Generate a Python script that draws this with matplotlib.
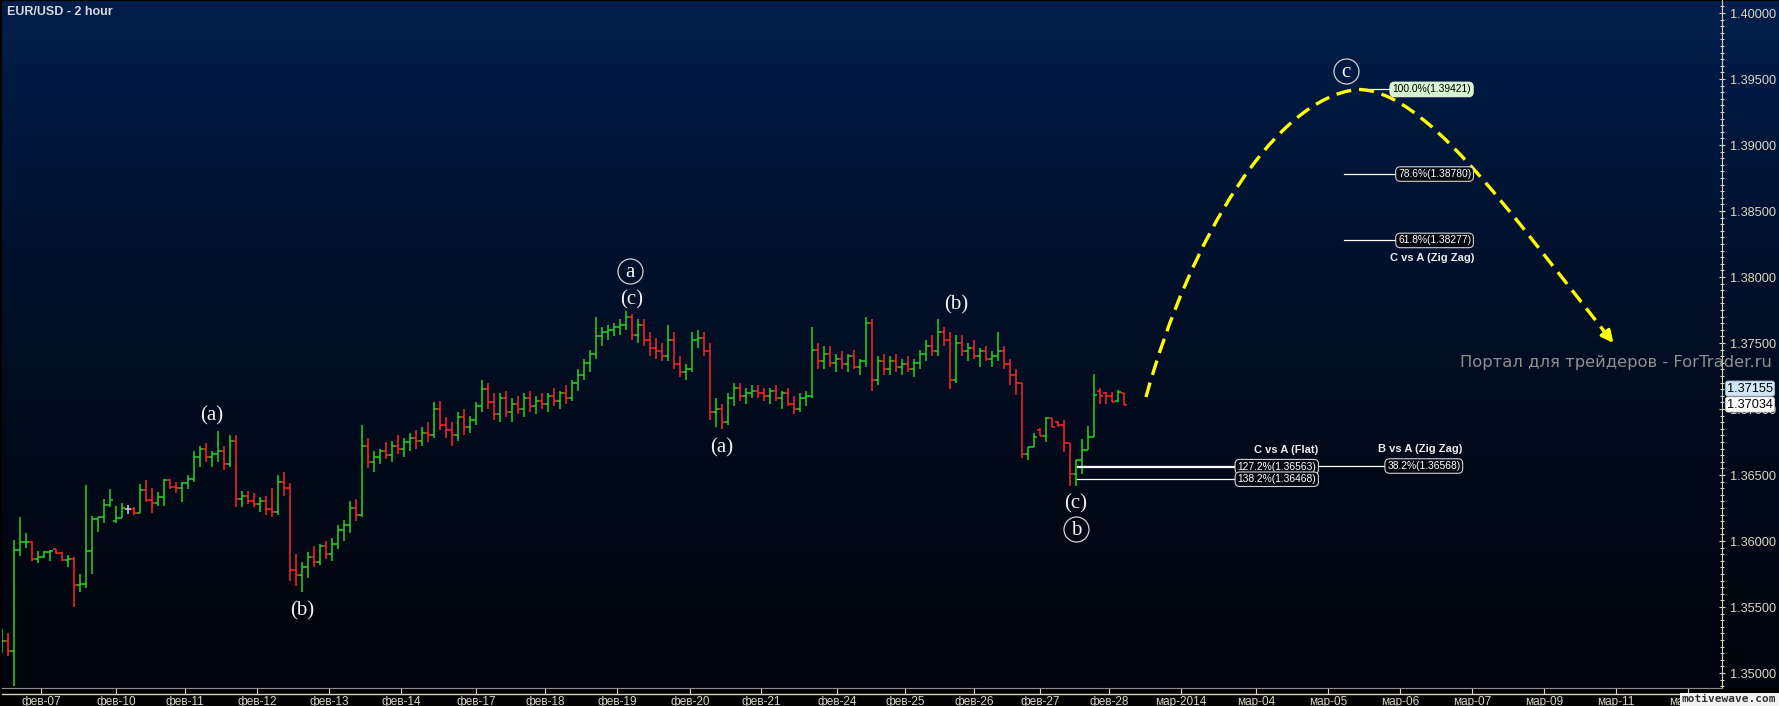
import numpy as np
import matplotlib.pyplot as plt
import matplotlib.transforms as mtransforms
from matplotlib.path import Path
from matplotlib.patches import PathPatch, Rectangle
from matplotlib.lines import Line2D
from matplotlib.ticker import MultipleLocator, FixedLocator, FormatStrFormatter

# ---------------- data (EUR/USD, 2 hour bars) ----------------
bar_open = [
    1.35235, 1.35242, 1.35167, 1.35932, 1.35992, 1.35995, 1.35864, 1.35879, 1.35917, 1.35939,
    1.35910, 1.35856, 1.35864, 1.35667, 1.35674, 1.35924, 1.36167, 1.36182, 1.36273, 1.36150,
    1.36174, 1.36242, 1.36242, 1.36212, 1.36386, 1.36311, 1.36288, 1.36333, 1.36462, 1.36409,
    1.36402, 1.36439, 1.36470, 1.36640, 1.36700, 1.36640, 1.36660, 1.36680, 1.36580, 1.36760,
    1.36320, 1.36340, 1.36300, 1.36280, 1.36300, 1.36240, 1.36220, 1.36450, 1.36400, 1.35780,
    1.35740, 1.35800, 1.35880, 1.35840, 1.35960, 1.35900, 1.35980, 1.36080, 1.36120, 1.36250,
    1.36200, 1.36720, 1.36600, 1.36640, 1.36680, 1.36650, 1.36720, 1.36700, 1.36750, 1.36780,
    1.36760, 1.36820, 1.36800, 1.37000, 1.36880, 1.36840, 1.36800, 1.36940, 1.36860, 1.36920,
    1.37020, 1.37150, 1.37050, 1.36960, 1.37080, 1.36980, 1.37040, 1.37000, 1.37080, 1.37020,
    1.37060, 1.37040, 1.37100, 1.37060, 1.37120, 1.37080, 1.37200, 1.37260, 1.37350, 1.37420,
    1.37550, 1.37580, 1.37600, 1.37620, 1.37640, 1.37700, 1.37560, 1.37640, 1.37520, 1.37460,
    1.37440, 1.37400, 1.37520, 1.37340, 1.37280, 1.37300, 1.37520, 1.37540, 1.37440, 1.36980,
    1.37000, 1.36900, 1.37080, 1.37160, 1.37100, 1.37120, 1.37140, 1.37120, 1.37100, 1.37140,
    1.37080, 1.37120, 1.37040, 1.37000, 1.37080, 1.37100, 1.37450, 1.37360, 1.37420, 1.37350,
    1.37380, 1.37340, 1.37400, 1.37320, 1.37360, 1.37650, 1.37220, 1.37360, 1.37300, 1.37360,
    1.37320, 1.37340, 1.37300, 1.37350, 1.37420, 1.37480, 1.37440, 1.37580, 1.37520, 1.37220,
    1.37500, 1.37440, 1.37460, 1.37400, 1.37440, 1.37380, 1.37400, 1.37440, 1.37340, 1.37260,
    1.37197, 1.36659, 1.36712, 1.36840, 1.36795, 1.36932, 1.36900, 1.36879, 1.36742, 1.36508,
    1.36614, 1.36689, 1.36788, 1.37140, 1.37120, 1.37100, 1.37060, 1.37121,
]
bar_high = [
    1.35333, 1.35303, 1.36008, 1.36182, 1.36061, 1.36000, 1.35924, 1.35924, 1.35932, 1.35939,
    1.35917, 1.35894, 1.35879, 1.35750, 1.36424, 1.36189, 1.36182, 1.36318, 1.36394, 1.36265,
    1.36288, 1.36273, 1.36258, 1.36432, 1.36462, 1.36402, 1.36371, 1.36470, 1.36470, 1.36450,
    1.36447, 1.36500, 1.36680, 1.36720, 1.36740, 1.36680, 1.36830, 1.36720, 1.36800, 1.36800,
    1.36380, 1.36380, 1.36360, 1.36330, 1.36340, 1.36400, 1.36500, 1.36520, 1.36440, 1.35900,
    1.35840, 1.35920, 1.35960, 1.35980, 1.36000, 1.36020, 1.36120, 1.36160, 1.36300, 1.36320,
    1.36880, 1.36780, 1.36680, 1.36700, 1.36750, 1.36760, 1.36800, 1.36780, 1.36820, 1.36840,
    1.36860, 1.36900, 1.37050, 1.37060, 1.36940, 1.36900, 1.36980, 1.37000, 1.36950, 1.37050,
    1.37220, 1.37200, 1.37120, 1.37120, 1.37140, 1.37080, 1.37100, 1.37120, 1.37140, 1.37100,
    1.37120, 1.37120, 1.37160, 1.37140, 1.37180, 1.37220, 1.37300, 1.37380, 1.37450, 1.37700,
    1.37620, 1.37640, 1.37650, 1.37680, 1.37740, 1.37720, 1.37680, 1.37680, 1.37580, 1.37540,
    1.37500, 1.37640, 1.37580, 1.37400, 1.37340, 1.37580, 1.37600, 1.37580, 1.37500, 1.37080,
    1.37040, 1.37120, 1.37200, 1.37200, 1.37160, 1.37180, 1.37180, 1.37160, 1.37160, 1.37180,
    1.37140, 1.37160, 1.37100, 1.37120, 1.37140, 1.37620, 1.37500, 1.37480, 1.37480, 1.37420,
    1.37440, 1.37420, 1.37450, 1.37380, 1.37700, 1.37680, 1.37400, 1.37420, 1.37400, 1.37420,
    1.37380, 1.37400, 1.37380, 1.37450, 1.37520, 1.37560, 1.37680, 1.37620, 1.37580, 1.37560,
    1.37560, 1.37500, 1.37520, 1.37460, 1.37480, 1.37440, 1.37580, 1.37480, 1.37380, 1.37300,
    1.37197, 1.36712, 1.36818, 1.36856, 1.36939, 1.36932, 1.36910, 1.36917, 1.36742, 1.36614,
    1.36773, 1.36871, 1.37265, 1.37159, 1.37129, 1.37129, 1.37144, 1.37121,
]
bar_low = [
    1.35152, 1.35129, 1.34900, 1.35886, 1.35947, 1.35848, 1.35833, 1.35870, 1.35848, 1.35902,
    1.35848, 1.35803, 1.35500, 1.35614, 1.35644, 1.35750, 1.36068, 1.36136, 1.36258, 1.36136,
    1.36174, 1.36205, 1.36197, 1.36212, 1.36295, 1.36212, 1.36265, 1.36265, 1.36394, 1.36364,
    1.36295, 1.36394, 1.36450, 1.36560, 1.36600, 1.36560, 1.36600, 1.36540, 1.36560, 1.36260,
    1.36260, 1.36280, 1.36260, 1.36220, 1.36200, 1.36180, 1.36200, 1.36340, 1.35700, 1.35660,
    1.35610, 1.35720, 1.35800, 1.35820, 1.35860, 1.35850, 1.35940, 1.36000, 1.36060, 1.36150,
    1.36180, 1.36550, 1.36520, 1.36580, 1.36620, 1.36600, 1.36660, 1.36640, 1.36680, 1.36700,
    1.36720, 1.36750, 1.36780, 1.36840, 1.36780, 1.36720, 1.36760, 1.36800, 1.36820, 1.36880,
    1.36980, 1.37000, 1.36920, 1.36900, 1.36940, 1.36900, 1.36960, 1.36940, 1.36980, 1.36960,
    1.37000, 1.36980, 1.37020, 1.37000, 1.37040, 1.37060, 1.37140, 1.37220, 1.37280, 1.37380,
    1.37480, 1.37520, 1.37550, 1.37560, 1.37600, 1.37520, 1.37500, 1.37480, 1.37400, 1.37380,
    1.37360, 1.37360, 1.37300, 1.37240, 1.37220, 1.37280, 1.37460, 1.37400, 1.36920, 1.36860,
    1.36850, 1.36880, 1.37020, 1.37060, 1.37040, 1.37080, 1.37080, 1.37060, 1.37040, 1.37060,
    1.37000, 1.37020, 1.36960, 1.36980, 1.37020, 1.37080, 1.37300, 1.37300, 1.37320, 1.37280,
    1.37300, 1.37280, 1.37300, 1.37260, 1.37320, 1.37140, 1.37180, 1.37260, 1.37260, 1.37280,
    1.37260, 1.37280, 1.37240, 1.37300, 1.37360, 1.37400, 1.37400, 1.37480, 1.37150, 1.37200,
    1.37400, 1.37360, 1.37380, 1.37320, 1.37360, 1.37320, 1.37360, 1.37300, 1.37180, 1.37106,
    1.36629, 1.36614, 1.36712, 1.36795, 1.36750, 1.36864, 1.36860, 1.36674, 1.36417, 1.36417,
    1.36508, 1.36689, 1.36788, 1.37038, 1.37038, 1.37053, 1.37053, 1.37030,
]
bar_close = [
    1.35242, 1.35167, 1.35932, 1.35992, 1.35995, 1.35864, 1.35879, 1.35917, 1.35924, 1.35910,
    1.35856, 1.35864, 1.35667, 1.35674, 1.35924, 1.36167, 1.36182, 1.36273, 1.36311, 1.36174,
    1.36250, 1.36242, 1.36212, 1.36386, 1.36311, 1.36288, 1.36333, 1.36462, 1.36409, 1.36402,
    1.36439, 1.36470, 1.36640, 1.36700, 1.36640, 1.36660, 1.36680, 1.36580, 1.36760, 1.36320,
    1.36340, 1.36300, 1.36280, 1.36300, 1.36240, 1.36220, 1.36450, 1.36400, 1.35780, 1.35740,
    1.35800, 1.35880, 1.35840, 1.35960, 1.35900, 1.35980, 1.36080, 1.36120, 1.36250, 1.36200,
    1.36720, 1.36600, 1.36640, 1.36680, 1.36650, 1.36720, 1.36700, 1.36750, 1.36780, 1.36760,
    1.36820, 1.36800, 1.37000, 1.36880, 1.36840, 1.36800, 1.36940, 1.36860, 1.36920, 1.37020,
    1.37150, 1.37050, 1.36960, 1.37080, 1.36980, 1.37040, 1.37000, 1.37080, 1.37020, 1.37060,
    1.37040, 1.37100, 1.37060, 1.37120, 1.37080, 1.37200, 1.37260, 1.37350, 1.37420, 1.37550,
    1.37580, 1.37600, 1.37620, 1.37640, 1.37700, 1.37560, 1.37640, 1.37520, 1.37460, 1.37440,
    1.37400, 1.37520, 1.37340, 1.37280, 1.37300, 1.37520, 1.37540, 1.37440, 1.36980, 1.37000,
    1.36900, 1.37080, 1.37160, 1.37100, 1.37120, 1.37140, 1.37120, 1.37100, 1.37140, 1.37080,
    1.37120, 1.37040, 1.37000, 1.37080, 1.37100, 1.37450, 1.37360, 1.37420, 1.37350, 1.37380,
    1.37340, 1.37400, 1.37320, 1.37360, 1.37650, 1.37220, 1.37360, 1.37300, 1.37360, 1.37320,
    1.37340, 1.37300, 1.37350, 1.37420, 1.37480, 1.37440, 1.37580, 1.37520, 1.37220, 1.37500,
    1.37440, 1.37460, 1.37400, 1.37440, 1.37380, 1.37400, 1.37440, 1.37340, 1.37260, 1.37197,
    1.36659, 1.36712, 1.36788, 1.36795, 1.36932, 1.36864, 1.36879, 1.36742, 1.36508, 1.36614,
    1.36689, 1.36788, 1.37106, 1.37100, 1.37098, 1.37053, 1.37129, 1.37034,
]

# day separators (bar position) and their labels
day_ticks = [6.45, 18.95, 30.45, 42.45, 54.45, 66.45, 78.95, 90.45, 102.45, 114.6, 126.45,
             139.1, 150.45, 161.95, 172.95, 184.45, 196.45, 208.95, 220.95, 232.95, 244.95,
             256.95, 268.95, 280.95]
day_labels = ['фев-07', 'фев-10', 'фев-11', 'фев-12', 'фев-13', 'фев-14', 'фев-17', 'фев-18',
              'фев-19', 'фев-20', 'фев-21', 'фев-24', 'фев-25', 'фев-26', 'фев-27', 'фев-28',
              'мар-2014', 'мар-04', 'мар-05', 'мар-06', 'мар-07', 'мар-09', 'мар-11', 'мар-12']

# Elliott wave labels
wave_text = ['(a)', '(b)', 'a', '(c)', '(a)', '(b)', '(c)', 'b', 'c']
wave_bar = [34.95, 49.95, 104.6, 104.8, 119.95, 158.95, 178.95, 178.95, 223.95]
wave_price = [1.36955, 1.35477, 1.38045, 1.37833, 1.36712, 1.37795, 1.36288, 1.36091, 1.39561]
wave_circled = [False, False, True, False, False, False, False, True, True]

# projected move: start, top, end (bar position, price)
proj_bar = [190.6, 225.8, 268.5]
proj_price = [1.37091, 1.39421, 1.37500]

# fibonacci levels
fib_text = ['100.0%(1.39421)', '78.6%(1.38780)', '61.8%(1.38277)',
            '127.2%(1.36563)', '138.2%(1.36468)', '38.2%(1.36568)']
fib_price = [1.39421, 1.38780, 1.38277, 1.36563, 1.36468, 1.36568]
fib_group = ['C vs A (Zig Zag)', 'C vs A (Flat)', 'B vs A (Zig Zag)']
fib_group_price = [1.38144, 1.36689, 1.36697]

last_prices = [1.37155, 1.37034]

# ---------------- layout ----------------
W, H = 1779, 706
PLOT_BOTTOM = 688      # px from top
PLOT_RIGHT = 1722      # px from left

fig = plt.figure(figsize=(W / 100, H / 100), dpi=100)
fig.patch.set_facecolor('black')

# background gradient (navy -> black)
bg = fig.add_axes([0, 0, 1, 1], zorder=-5)
bg.set_axis_off()
t = np.linspace(0, 1, 400)[:, None]
top_c = np.array([0, 30, 76]) / 255
bot_c = np.array([2, 5, 14]) / 255
grad = bot_c + (top_c - bot_c) * ((1 - t) ** 1.5)[..., None]
bg.imshow(grad, extent=(2, W, H - PLOT_BOTTOM, H - 1), aspect='auto', origin='upper')
bg.set_xlim(0, W)
bg.set_ylim(0, H)

ax = fig.add_axes([2 / W, (H - PLOT_BOTTOM) / H, (PLOT_RIGHT - 2) / W, PLOT_BOTTOM / H])
ax.patch.set_alpha(0)
ax.set_xlim(-0.05, 286.6)
ax.set_ylim(1.348864, 1.400985)

# ---------------- OHLC bars ----------------
o = np.array(bar_open)
hi = np.array(bar_high)
lo = np.array(bar_low)
c = np.array(bar_close)
x = np.arange(len(o))
cols = np.where(c > o, '#27d327', np.where(c < o, '#ff2626', '#d8d4c8'))
ax.vlines(x, lo, hi, colors=cols, lw=1.1)
ax.hlines(o, x - 0.5, x, colors=cols, lw=1.1)
ax.hlines(c, x, x + 0.5, colors=cols, lw=1.1)

# ---------------- axes styling ----------------
axis_col = '#d8d4bc'
text_col = '#dcd8c4'
for s in ['top', 'left']:
    ax.spines[s].set_visible(False)
ax.spines['right'].set_color(axis_col)
ax.spines['bottom'].set_color('#8c8c8c')

ax.yaxis.tick_right()
ax.yaxis.set_major_locator(MultipleLocator(0.005))
ax.yaxis.set_minor_locator(MultipleLocator(0.0005))
ax.yaxis.set_major_formatter(FormatStrFormatter('%.5f'))
ax.tick_params(axis='y', which='major', direction='inout', length=5, width=0.8,
               color=axis_col, labelcolor=text_col, labelsize=9.2, pad=3.2)
ax.tick_params(axis='y', which='minor', direction='inout', length=3.4, width=0.8, color=axis_col)
ax.xaxis.set_major_locator(FixedLocator(day_ticks))
ax.set_xticklabels(day_labels)
ax.tick_params(axis='x', direction='out', length=4.3, width=0.8, color=axis_col,
               labelcolor=text_col, labelsize=8.5, pad=1.2)
for lab in ax.get_xticklabels() + ax.get_yticklabels():
    lab.set_family('Liberation Sans')
fig.add_artist(Line2D([2 / W, PLOT_RIGHT / W], [1 - 694 / H] * 2, color=axis_col, lw=1,
                      transform=fig.transFigure))

# ---------------- projection ----------------
(x0, xp, x1), (p0, pp, p1) = proj_bar, proj_price
verts = [(x0, p0), (x0 + 0.21 * (xp - x0), p0 + 0.52 * (pp - p0)), (xp - 0.39 * (xp - x0), pp - 0.03 * (pp - p0)),
         (xp, pp),
         (xp + 0.26 * (x1 - xp), pp), (xp + 0.57 * (x1 - xp), pp - 0.45 * (pp - p1)), (x1, p1)]
codes = [Path.MOVETO] + [Path.CURVE4] * 6
ax.add_patch(PathPatch(Path(verts, codes), fill=False, ec='#ffff00', lw=2.4,
                       ls=(0, (4.5, 2.4)), capstyle='butt', zorder=4))
ax.annotate('', xy=(x1, p1), xytext=(x1 - 1.3, p1 + 0.00075),
            arrowprops=dict(arrowstyle='-|>,head_length=0.7,head_width=0.35', color='#ffff00',
                            lw=2.4, shrinkA=0, shrinkB=0), zorder=4)

# ---------------- fibonacci lines & boxes ----------------
line_from = [227.1, 223.6, 223.6, 179.1, 179.1, 179.1]
line_to = [231.1, 232.1, 232.1, 205.3, 205.3, 230.3]
box_x = [238.2, 238.7, 238.7, 212.4, 212.4, 236.9]
for i, (txt, pr) in enumerate(zip(fib_text, fib_price)):
    ax.plot([line_from[i], line_to[i]], [pr, pr], color='white', lw=0.9, zorder=3)
    if i == 0:
        fc, ec, tc = '#d6f3cf', '#e8f8e0', 'black'
    else:
        fc, ec, tc = '#060810', '#cfcfcf', 'white'
    ax.text(box_x[i], pr, txt, ha='center', va='center', fontsize=7.4, color=tc,
            family='Liberation Sans', zorder=5,
            bbox=dict(boxstyle='round,pad=0.22,rounding_size=0.45', fc=fc, ec=ec, lw=0.8))

group_x = [245.3, 219.3, 243.3]
for txt, pr, gx in zip(fib_group, fib_group_price, group_x):
    ax.text(gx, pr, txt, ha='right', va='center', fontsize=8, weight='bold',
            color='#ececec', family='Liberation Sans', zorder=5)

# ---------------- wave labels ----------------
for txt, bx, pr, circ in zip(wave_text, wave_bar, wave_price, wave_circled):
    ax.annotate(txt, (bx, pr), xytext=(0, -4), textcoords='offset points', ha='center',
                va='baseline', fontsize=15, color='#f2f2f2', family='Liberation Serif', zorder=5)
    if circ:
        ax.plot(bx, pr, 'o', ms=18, mfc='none', mec='#d0d0d0', mew=0.9, zorder=5)

# ---------------- last price tags ----------------
tag_tr = mtransforms.blended_transform_factory(ax.transAxes, ax.transData)
tag_x = 1 + (1750 - PLOT_RIGHT) / (PLOT_RIGHT - 2)
ax.text(tag_x, last_prices[0], f'{last_prices[0]:.5f}', transform=tag_tr, ha='center', va='center',
        fontsize=9.2, family='Liberation Sans', color='black', clip_on=False, zorder=6,
        bbox=dict(boxstyle='round,pad=0.12,rounding_size=0.2', fc='#cfe6f6', ec='#9bb8cc', lw=0.6))
ax.text(tag_x, last_prices[1], f'{last_prices[1]:.5f}', transform=tag_tr, ha='center', va='center',
        fontsize=9.2, family='Liberation Sans', color='black', clip_on=False, zorder=6,
        bbox=dict(boxstyle='round,pad=0.12,rounding_size=0.2', fc='white', ec='#cccccc', lw=0.6))

# ---------------- texts ----------------
fig.text(7 / W, 1 - 12 / H, 'EUR/USD - 2 hour', fontsize=9, weight='bold', color='#d8d8d8',
         family='Liberation Sans', va='center', ha='left')
fig.text(1772 / W, 1 - 363 / H, 'Портал для трейдеров - ForTrader.ru', fontsize=11.8,
         color='#8e8e8e', family='DejaVu Sans', va='center', ha='right')
fig.add_artist(Rectangle((1680 / W, 0), 99 / W, 13 / H, transform=fig.transFigure,
                         fc='#f2f2f2', ec='none', zorder=5))
fig.text(1729 / W, 6.5 / H, 'motivewave.com', fontsize=8, weight='bold', color='#303030',
         family='DejaVu Sans Mono', va='center', ha='center', zorder=6)

fig.savefig('out.png', dpi=100, facecolor=fig.get_facecolor())
